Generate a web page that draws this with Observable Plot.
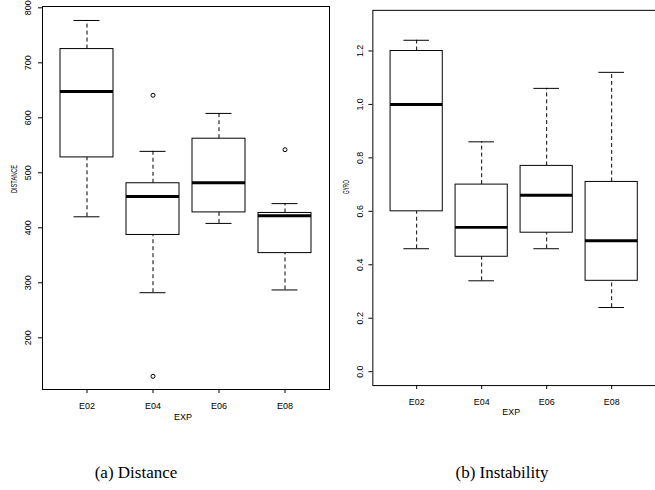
<!DOCTYPE html>
<html>
<head>
<meta charset="utf-8">
<script src="https://cdn.jsdelivr.net/npm/d3@7"></script>
<script src="https://cdn.jsdelivr.net/npm/@observablehq/plot@0.6"></script>
<style>
  html, body { margin: 0; padding: 0; background: #fff; overflow: hidden; }
  #wrap { position: relative; width: 655px; height: 490px; overflow: hidden; }
  .panel { position: absolute; top: 0; }
  .cap { position: absolute; font-family: "Liberation Serif", "Times New Roman", serif; font-size: 17px; color: #000; white-space: nowrap; transform: translateX(-50%); }
</style>
</head>
<body>
<div id="wrap">
  <div id="left" class="panel" style="left:0px"></div>
  <div id="right" class="panel" style="left:330px"></div>
  <div class="cap" style="left:136px; top:463px">(a) Distance</div>
  <div class="cap" style="left:502px; top:463px">(b) Instability</div>
</div>
<script>
const exps = ["E02", "E04", "E06", "E08"];

// Distance (left panel)
const distLow  = [420, 282, 408, 287];
const distQ1   = [528, 387, 428, 354];
const distMed  = [648, 457, 482, 422];
const distQ3   = [725, 481, 562, 427];
const distHigh = [777, 539, 608, 444];
const distOutExp = ["E04", "E04", "E08"];
const distOutVal = [641, 130, 542];
const distTicks = [200, 300, 400, 500, 600, 700, 800];

// Instability / GYRO (right panel)
const gyroLow  = [0.46, 0.34, 0.46, 0.24];
const gyroQ1   = [0.60, 0.43, 0.52, 0.34];
const gyroMed  = [1.00, 0.54, 0.66, 0.49];
const gyroQ3   = [1.20, 0.70, 0.77, 0.71];
const gyroHigh = [1.24, 0.86, 1.06, 1.12];
const gyroTicks = [0.0, 0.2, 0.4, 0.6, 0.8, 1.0, 1.2];

function stats(low, q1, med, q3, high) {
  return exps.map((e, i) => ({exp: e, low: low[i], q1: q1[i], med: med[i], q3: q3[i], high: high[i]}));
}

function boxplot({data, outliers, yDomain, ticks, tickFormat, ylabel, margins, tickPad, labelDx, labelDy, labelLen}) {
  const fs = 9;
  const chart = Plot.plot({
    width: 330,
    height: 430,
    marginLeft: margins.left,
    marginRight: margins.right,
    marginTop: margins.top,
    marginBottom: margins.bottom,
    style: {fontFamily: "'Liberation Sans', Arial, sans-serif", fontSize: fs + "px", background: "white"},
    x: {type: "band", domain: exps, paddingInner: 0.2, paddingOuter: 0.26, align: 0.5, axis: null, label: null},
    y: {domain: yDomain, axis: null, label: null},
    marks: [
      Plot.ruleX(data, {x: "exp", y1: "q3", y2: "high", stroke: "black", strokeWidth: 1, strokeDasharray: "4,3"}),
      Plot.ruleX(data, {x: "exp", y1: "low", y2: "q1", stroke: "black", strokeWidth: 1, strokeDasharray: "4,3"}),
      Plot.tickY(data, {x: "exp", y: "high", stroke: "black", strokeWidth: 1, inset: 13.5}),
      Plot.tickY(data, {x: "exp", y: "low", stroke: "black", strokeWidth: 1, inset: 13.5}),
      Plot.barY(data, {x: "exp", y1: "q1", y2: "q3", fill: "white", stroke: "black", strokeWidth: 1}),
      Plot.tickY(data, {x: "exp", y: "med", stroke: "black", strokeWidth: 3}),
      Plot.dot(outliers, {x: "exp", y: "v", r: 2, stroke: "black", fill: "none", strokeWidth: 1}),
      Plot.frame({stroke: "black", strokeWidth: 1}),
      Plot.axisX({tickSize: 4, tickPadding: 9, fontSize: fs, label: null}),
      Plot.axisY({ticks, tickSize: 4, tickPadding: tickPad, tickRotate: -90, tickFormat, fontSize: fs, label: null}),
      Plot.text([ylabel], {frameAnchor: "left", dx: labelDx, dy: labelDy, rotate: -90, fontSize: 8.5, text: d => d, className: "ylab"}),
      Plot.text(["EXP"], {frameAnchor: "bottom", dx: -3, dy: 30, fontSize: fs, text: d => d})
    ]
  });
  d3.select(chart).selectAll(".ylab text")
    .attr("textLength", labelLen)
    .attr("lengthAdjust", "spacingAndGlyphs");
  return chart;
}

const left = boxplot({
  data: stats(distLow, distQ1, distMed, distQ3, distHigh),
  outliers: distOutExp.map((e, i) => ({exp: e, v: distOutVal[i]})),
  yDomain: [106, 802.4],
  ticks: distTicks,
  tickFormat: d3.format("d"),
  ylabel: "DISTANCE",
  margins: {left: 42, right: 1, top: 6, bottom: 41},
  tickPad: 8,
  labelDx: -28, labelDy: -5, labelLen: 28
});
document.getElementById("left").appendChild(left);

const right = boxplot({
  data: stats(gyroLow, gyroQ1, gyroMed, gyroQ3, gyroHigh),
  outliers: [],
  yDomain: [-0.052, 1.352],
  ticks: gyroTicks,
  tickFormat: d3.format(".1f"),
  ylabel: "GYRO",
  margins: {left: 43, right: 0, top: 10, bottom: 39},
  tickPad: 6,
  labelDx: -27, labelDy: -4, labelLen: 14
});
document.getElementById("right").appendChild(right);
</script>
</body>
</html>
